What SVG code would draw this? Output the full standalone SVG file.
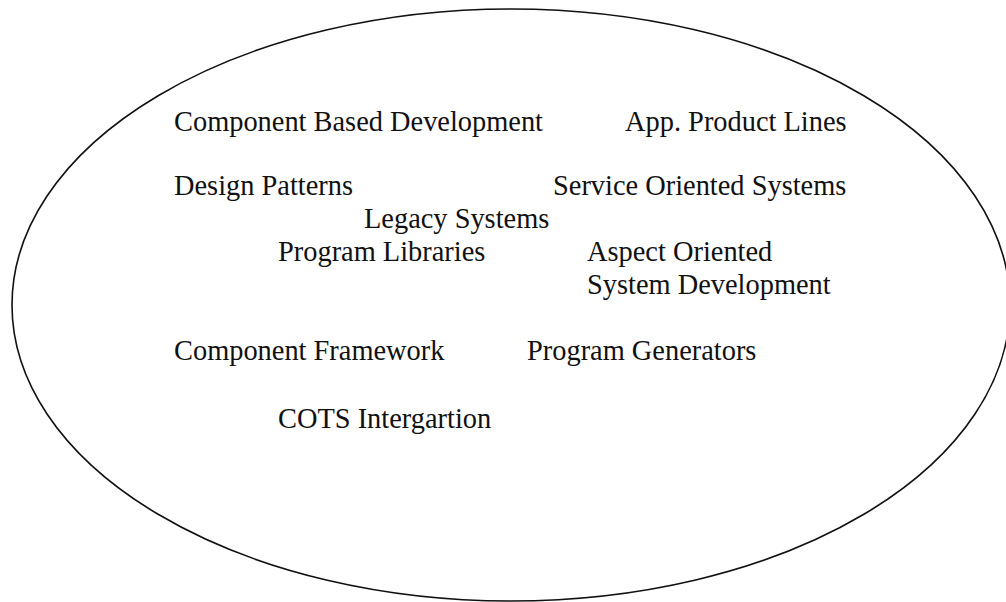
<svg xmlns="http://www.w3.org/2000/svg" width="1006" height="602" viewBox="0 0 1006 602">
<style>
.t{font-family:"Liberation Serif","Times New Roman",serif;font-size:28.4px;fill:#111}
.e{fill:none;stroke:#111;stroke-width:1.6}
</style>
<rect width="1006" height="602" fill="#fff"/>
<g id="boundary"><ellipse class="e" cx="511" cy="305" rx="499" ry="296"/></g>
<g id="n1"><text class="t" x="174" y="131">Component Based Development</text></g>
<g id="n2"><text class="t" x="625" y="131">App. Product Lines</text></g>
<g id="n3"><text class="t" x="174" y="195">Design Patterns</text></g>
<g id="n4"><text class="t" x="553" y="195">Service Oriented Systems</text></g>
<g id="n5"><text class="t" x="364" y="228">Legacy Systems</text></g>
<g id="n6"><text class="t" x="278" y="261">Program Libraries</text></g>
<g id="n7"><text class="t" x="587" y="261">Aspect Oriented</text><text class="t" x="587" y="294">System Development</text></g>
<g id="n8"><text class="t" x="174" y="360">Component Framework</text></g>
<g id="n9"><text class="t" x="527" y="360">Program Generators</text></g>
<g id="n10"><text class="t" x="278" y="428">COTS Intergartion</text></g>
<g id="connectors"></g>
</svg>
